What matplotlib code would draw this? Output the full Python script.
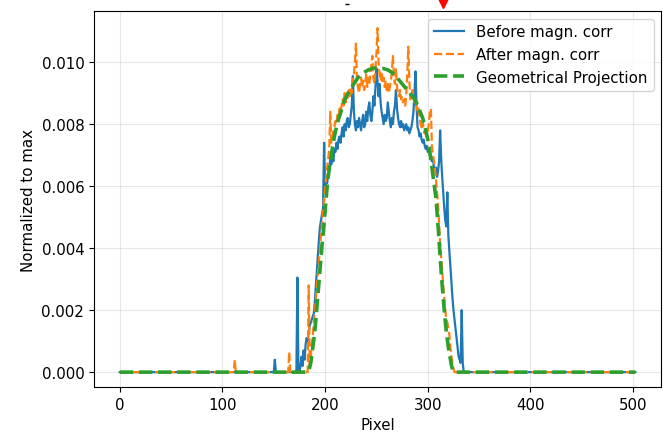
import numpy as np
import matplotlib.pyplot as plt
from matplotlib.lines import Line2D

N_PIXELS = 503  # pixel index 0 .. 502

# Profiles in units of 1e-3 (normalized to max); zero outside the listed window
BEFORE_START = 150
before_corr = [
    0, 0.4, 0, 0, 0, 0, 0, 0, 0, 0, 0, 0, 0, 0, 0, 0, 0, 0, 0, 0, 0, 0,  # 150-171
    0, 3.05, 0, 0, 0.2, 0.5, 0.2, 0.7, 0.4, 0.9,  # 172-181
    1.1, 1.0, 1.3, 1.5, 1.6, 1.7, 1.8, 1.9, 2.3, 2.8,  # 182-191
    3.3, 3.8, 4.3, 4.7, 4.9, 5.1, 5.3, 7.4, 5.9, 6.2,  # 192-201
    6.1, 6.4, 6.5, 6.9, 6.7, 7.0, 6.8, 7.2, 7.1, 7.4,  # 202-211
    7.2, 7.5, 7.6, 7.4, 7.7, 7.9, 7.6, 8.0, 7.8, 8.1,  # 212-221
    8.2, 7.9, 8.0, 8.3, 8.6, 9.55, 8.4, 8.0, 7.8, 8.1,  # 222-231
    7.9, 8.2, 8.0, 7.8, 8.1, 8.3, 7.9, 8.0, 8.4, 8.1,  # 232-241
    8.5, 8.7, 8.3, 8.1, 8.4, 8.9, 8.6, 9.2, 9.8, 9.4,  # 242-251
    8.9, 9.3, 8.7, 8.4, 8.2, 8.0, 8.3, 8.1, 8.2, 8.7,  # 252-261
    8.4, 8.1, 7.9, 8.2, 8.0, 8.4, 8.6, 9.1, 8.5, 8.2,  # 262-271
    8.0, 7.9, 8.1, 7.9, 8.0, 7.8, 7.9, 8.0, 7.8, 7.9,  # 272-281
    7.7, 7.8, 7.9, 8.1, 8.4, 9.0, 9.7, 8.6, 7.9, 7.8,  # 282-291
    7.6, 7.7, 7.5, 7.4, 7.5, 7.3, 7.2, 7.3, 7.1, 7.2,  # 292-301
    7.0, 6.9, 6.8, 6.9, 6.6, 6.5, 6.6, 6.3, 6.5, 6.8,  # 302-311
    7.8, 6.9, 6.3, 5.8, 5.3, 4.9, 4.7, 5.8, 4.4, 3.9,  # 312-321
    3.4, 2.9, 2.4, 2.0, 1.7, 1.4, 1.1, 0.8, 0.5, 0.4,  # 322-331
    0.3, 2.0, 0.3, 0, 0, 0, 0,  # 332-338
]

AFTER_START = 108
after_corr = (
    [0, 0, 0, 0, 0.4] + [0] * 52 + [0.65] + [0] * 18  # 108-183
    + [
        2.8, 0.2, 0.5, 0.9, 1.2, 1.6, 2.0, 2.4, 2.8, 3.2,  # 184-193
        3.6, 4.0, 4.4, 4.8, 5.2, 5.6, 5.9, 6.3, 6.6, 6.9,  # 194-203
        7.2, 8.4, 7.4, 7.6, 7.8, 7.9, 8.1, 8.0, 8.3, 8.2,  # 204-213
        8.5, 8.4, 8.6, 8.8, 8.6, 9.0, 8.7, 9.0, 8.8, 9.1,  # 214-223
        8.9, 9.2, 9.0, 9.4, 9.6, 10.0, 10.6, 9.4, 9.2, 9.0,  # 224-233
        9.3, 9.5, 9.2, 9.4, 9.1, 9.3, 9.6, 9.2, 9.5, 9.3,  # 234-243
        9.6, 9.9, 10.2, 9.5, 9.3, 9.8, 10.3, 11.1, 10.0, 9.6,  # 244-253
        9.4, 9.7, 9.3, 9.5, 9.2, 9.4, 9.1, 9.3, 9.0, 9.2,  # 254-263
        9.4, 9.7, 10.2, 9.5, 9.3, 9.8, 9.2, 9.0, 8.9, 9.1,  # 264-273
        8.8, 8.9, 8.7, 8.8, 8.6, 8.9, 9.6, 10.5, 9.4, 8.8,  # 274-283
        8.9, 9.1, 8.9, 8.7, 8.8, 8.6, 8.4, 8.5, 8.2, 8.0,  # 284-293
        7.9, 8.1, 7.8, 7.7, 7.9, 7.6, 7.8, 8.0, 8.4, 8.5,  # 294-303
        7.3, 7.0, 6.8, 6.5, 6.2, 5.8, 5.4, 4.8, 4.2, 3.7,  # 304-313
        3.3, 2.8, 2.4, 2.0, 1.7, 1.6, 1.4, 1.2, 0.8, 0.5,  # 314-323
        0.3, 0.1, 0,  # 324-326
    ]
)

GEOM_START = 184
geom_proj = [
    0.05, 0.15, 0.3, 0.55, 0.8, 1.05, 1.35, 1.7, 2.1, 2.5,  # 184-193
    2.9, 3.3, 3.7, 4.1, 4.45, 4.8, 5.2, 5.6, 6.0, 6.3,  # 194-203
    6.55, 6.8, 7.0, 7.2, 7.4, 7.6, 7.75, 7.9, 8.03, 8.15,  # 204-213
    8.25, 8.35, 8.47, 8.6, 8.7, 8.78, 8.85, 8.91, 8.97, 9.03,  # 214-223
    9.09, 9.15, 9.2, 9.25, 9.3, 9.35, 9.4, 9.45, 9.5, 9.53,  # 224-233
    9.56, 9.59, 9.62, 9.65, 9.67, 9.69, 9.71, 9.73, 9.75, 9.76,  # 234-243
    9.77, 9.78, 9.79, 9.80, 9.81, 9.81, 9.81, 9.81, 9.81, 9.81,  # 244-253
    9.81, 9.80, 9.80, 9.79, 9.78, 9.77, 9.76, 9.75, 9.73, 9.71,  # 254-263
    9.69, 9.67, 9.64, 9.61, 9.58, 9.54, 9.50, 9.46, 9.42, 9.38,  # 264-273
    9.34, 9.30, 9.26, 9.22, 9.18, 9.14, 9.10, 9.06, 9.02, 8.98,  # 274-283
    8.94, 8.90, 8.85, 8.80, 8.75, 8.68, 8.60, 8.52, 8.44, 8.36,  # 284-293
    8.28, 8.20, 8.07, 7.94, 7.80, 7.65, 7.50, 7.30, 7.10, 6.85,  # 294-303
    6.60, 6.35, 6.10, 5.85, 5.60, 5.15, 4.70, 4.20, 3.70, 3.25,  # 304-313
    2.80, 2.40, 2.00, 1.65, 1.30, 1.05, 0.80, 0.60, 0.40, 0.22,  # 314-323
    0.10, 0.02, 0,  # 324-326
]


def full_profile(start, values):
    prof = np.zeros(N_PIXELS)
    prof[start:start + len(values)] = np.asarray(values) * 1e-3
    return prof


plt.rcParams["font.size"] = 10.8

pixels = np.arange(N_PIXELS)

fig = plt.figure(figsize=(6.63, 4.39), dpi=100)
ax = fig.add_axes([94 / 663, 51 / 439, 567 / 663, 376 / 439])

ax.plot(pixels, full_profile(BEFORE_START, before_corr), color="C0", lw=1.6, label="Before magn. corr")
ax.plot(pixels, full_profile(AFTER_START, after_corr), color="C1", lw=1.6, ls="--", label="After magn. corr")
ax.plot(pixels, full_profile(GEOM_START, geom_proj), color="C2", lw=2.6, ls="--", label="Geometrical Projection")

ax.set_ylim(-0.00048, 0.01165)
ax.set_xlabel("Pixel")
ax.set_ylabel("Normalized to max")
ax.grid(True, alpha=0.3)
ax.legend(loc="upper right")

# small markers left above the axes
fig.add_artist(Line2D([443 / 663], [1 - 3 / 439], marker="v", color="red", markersize=8,
                      transform=fig.transFigure))
fig.add_artist(Line2D([347 / 663], [1 - 5 / 439], marker="_", color="black", markersize=3,
                      transform=fig.transFigure))

fig.savefig("out.png", dpi=100)
